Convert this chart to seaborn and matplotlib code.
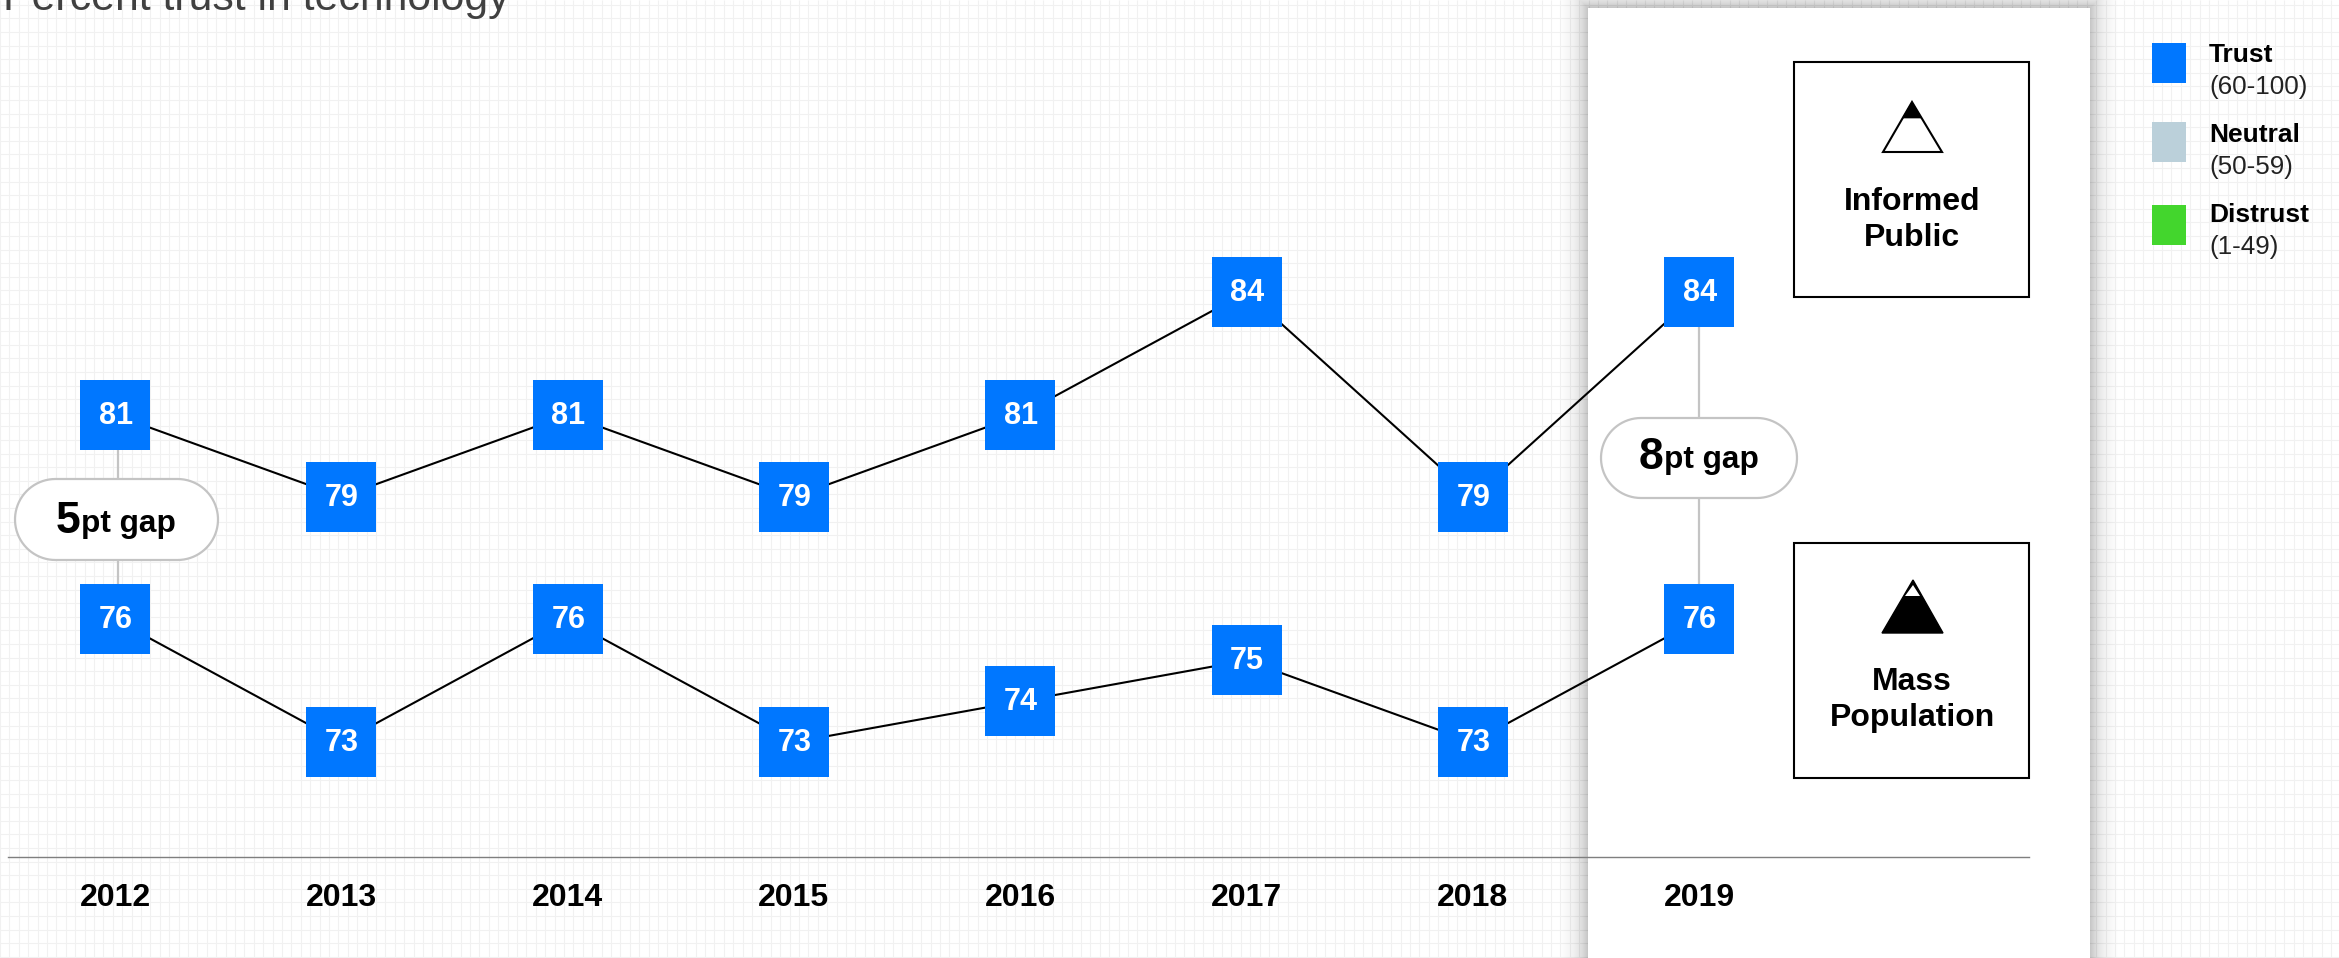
import matplotlib
matplotlib.use("Agg")
import matplotlib.pyplot as plt
import matplotlib.patches as mpatches
import matplotlib.transforms as mtransforms
import numpy as np
import pandas as pd
import seaborn as sns

years = [2012, 2013, 2014, 2015, 2016, 2017, 2018, 2019]
informed_public = [81, 79, 81, 79, 81, 84, 79, 84]
mass_population = [76, 73, 76, 73, 74, 75, 73, 76]

gap_years = [2012, 2019]
gap_values = ["5", "8"]

legend_names = ["Trust", "Neutral", "Distrust"]
legend_ranges = ["(60-100)", "(50-59)", "(1-49)"]
legend_colors = ["#0077FF", "#BBD0DA", "#43D62D"]

title_text = "Percent trust in technology"

W, H = 2339, 958
BLUE = "#0077FF"
GAP_GREY = "#C4C4C4"
GRID = "#F1F1F1"

sns.set_style("white")
plt.rcParams['font.family'] = ['Liberation Sans', 'DejaVu Sans']

df = pd.DataFrame({
    "year": years * 2,
    "trust": informed_public + mass_population,
    "group": ["Informed Public"] * len(years) + ["Mass Population"] * len(years),
})


def pill_outline(x0, y0, w, h):
    # stadium shape, true half circles at both ends
    r = h / 2
    t = np.linspace(-np.pi / 2, np.pi / 2, 40)
    right = np.column_stack([x0 + w - r + r * np.cos(t), y0 + r + r * np.sin(t)])
    left = np.column_stack([x0 + r - r * np.cos(t), y0 + r - r * np.sin(t)])
    return np.vstack([right, left])


fig = plt.figure(figsize=(W / 100, H / 100), dpi=100, facecolor='w')
# axes bottom sits on the baseline of the chart, top runs off the figure
ax = fig.add_axes([8 / W, (H - 857) / H, (2029 - 8) / W, 857 / H])
ax.patch.set_alpha(0)
ax.set_axisbelow(False)

# page pixels, origin top left, for everything that is not data
px = mtransforms.Affine2D().scale(1, -1).translate(0, H)

# background graph paper
ax.vlines(np.arange(0, W, 9.4), 0, H, colors=GRID, lw=0.75, transform=px, zorder=0.1, clip_on=False)
ax.hlines(np.arange(4.7, H, 13.6), 0, W, colors=GRID, lw=0.75, transform=px, zorder=0.1, clip_on=False)

# white 2019 panel with its soft shadow
for d in range(28, 0, -1):
    a = 0.002 + 0.018 * (1 - d / 28) ** 2
    ax.add_patch(mpatches.Rectangle((1588 - d, 8 - d), 502 + 2 * d, 1100, fc='k', ec='none', alpha=a,
                                    transform=px, zorder=0.5, clip_on=False))
ax.add_patch(mpatches.Rectangle((1588, 8), 502, 1100, fc='w', ec='none', transform=px, zorder=1, clip_on=False))

# lines and squares
for group, sub in df.groupby("group"):
    sns.lineplot(data=sub, x="year", y="trust", color='k', lw=1.5, errorbar=None, legend=False, ax=ax, zorder=3)
sns.scatterplot(data=df, x="year", y="trust", marker='s', s=2600, color=BLUE, linewidth=0, legend=False, ax=ax,
                zorder=4)
for yr, val in zip(df["year"], df["trust"]):
    ax.annotate(str(val), (yr, val), xytext=(0.5, -0.6), textcoords='offset points', ha='center', va='center',
                color='w', fontsize=22, fontweight='bold', zorder=5)

# gap connectors and pills
pill_boxes = [(15, 479, 203, 81), (1601, 418, 196, 80)]
pill_text_x = [80.5, 1663]
pill_base_y = [532, 468]
for i, yr in enumerate(gap_years):
    idx = years.index(yr)
    nudge = 3 / 226.3 * (i == 0)
    ax.plot([yr + nudge, yr + nudge], [informed_public[idx], mass_population[idx]], color=GAP_GREY, lw=1.6,
            zorder=2.8, scalex=False, scaley=False)
    ax.add_patch(mpatches.Polygon(pill_outline(*pill_boxes[i]), closed=True, fc='w', ec=GAP_GREY, lw=1.6,
                                  transform=px, zorder=3.5, clip_on=False))
    ax.text(pill_text_x[i], pill_base_y[i] + 1, gap_values[i], transform=px, ha='right', va='baseline', fontsize=32,
            fontweight='bold', color='k', zorder=5)
    ax.text(pill_text_x[i] + 0.8, pill_base_y[i], "pt gap", transform=px, ha='left', va='baseline', fontsize=22.8,
            fontweight='bold', color='k', zorder=5)

# series key boxes with the mountain icons
for y0, label, y_text in [(62, "Informed\nPublic", 220), (543, "Mass\nPopulation", 700)]:
    ax.add_patch(mpatches.Rectangle((1794, y0), 235, 235, fc='w', ec='k', lw=1.5, transform=px, zorder=2,
                                    clip_on=False))
    ax.text(1912, y_text, label, transform=px, ha='center', va='center', fontsize=23, fontweight='bold',
            color='k', linespacing=1.27, zorder=5)

ax.add_patch(mpatches.Polygon([(1912, 102), (1883, 152), (1942, 152)], closed=True, fc='w', ec='k', lw=1.5,
                              joinstyle='miter', transform=px, zorder=3, clip_on=False))
ax.add_patch(mpatches.Polygon([(1912, 102), (1902.5, 118), (1921.5, 118)], closed=True, fc='k', ec='k', lw=0.5,
                              transform=px, zorder=3.1, clip_on=False))
ax.add_patch(mpatches.Polygon([(1913, 580), (1882, 633), (1943, 633)], closed=True, fc='k', ec='k', lw=1,
                              transform=px, zorder=3, clip_on=False))
ax.add_patch(mpatches.Polygon([(1913, 585), (1905, 596), (1920, 596)], closed=True, fc='w', ec='none',
                              transform=px, zorder=3.1, clip_on=False))

# colour legend
legend_top = [43, 122, 205]
for i, (name, rng, col, y0) in enumerate(zip(legend_names, legend_ranges, legend_colors, legend_top)):
    ax.add_patch(mpatches.Rectangle((2152, y0), 34, 40, fc=col, ec='none', transform=px, zorder=2, clip_on=False))
    ax.text(2209, 55 + 80 * i, name, transform=px, ha='left', va='center', fontsize=19, fontweight='bold', color='k')
    ax.text(2209, 87 + 80 * i, rng, transform=px, ha='left', va='center', fontsize=18.7, color='#222222')

ax.text(3, 10, title_text, transform=px, ha='left', va='baseline', fontsize=30.8, color='#404040', clip_on=False)

# year and value scales that put the marks where they belong
ax.set_xlim(2012 + (8 - 115) / 226.3, 2012 + (2029 - 115) / 226.3)
ax.set_ylim(81 - (857 - 415) / 40.9, 81 + 415 / 40.9)
ax.set_xticks(years)
ax.set_xticklabels(years, fontsize=23, fontweight='bold', color='k')
ax.set_yticks([])
ax.tick_params(axis='x', length=0, pad=19)
ax.set_xlabel('')
ax.set_ylabel('')
sns.despine(ax=ax, left=True, top=True, right=True)
ax.spines['bottom'].set_color('#7F7F7F')
ax.spines['bottom'].set_linewidth(1)

fig.savefig("out.png", dpi=100, facecolor='w')
